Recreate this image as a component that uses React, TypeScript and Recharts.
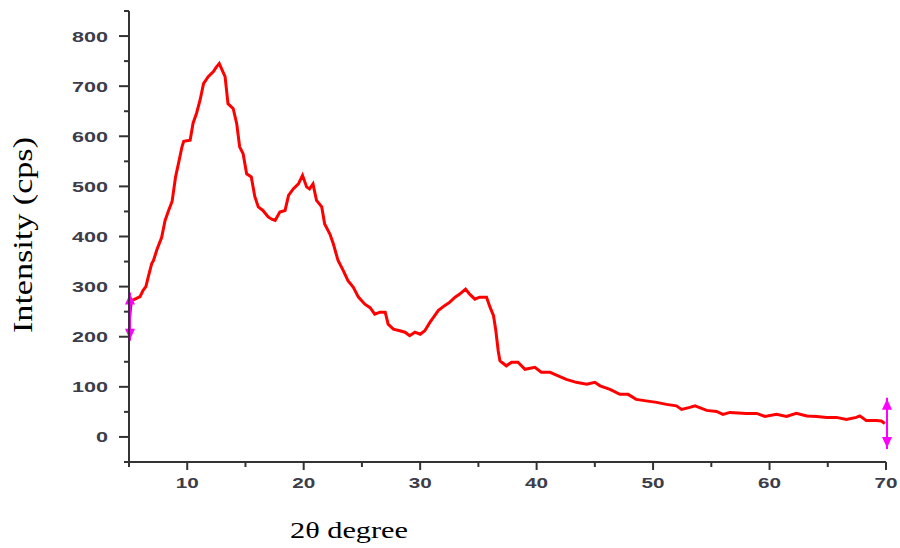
import { LineChart, Line, XAxis, YAxis, ReferenceLine, Label } from "recharts";

// 2θ positions (degrees) and intensities (cps)
const twoTheta = [
  5.05, 5.2, 5.6, 5.95, 6.2, 6.45, 6.65, 6.95, 7.1, 7.4, 7.8, 8.1, 8.4, 8.7, 9.0, 9.25, 9.55, 9.7,
  10.25, 10.5, 10.8, 11.1, 11.4, 11.8, 12.25, 12.5, 12.75, 13.0, 13.25, 13.5, 13.95, 14.25, 14.5,
  14.8, 15.1, 15.5, 15.8, 16.1, 16.5, 16.95, 17.3, 17.55, 17.95, 18.4, 18.7, 19.1, 19.55, 19.9,
  20.25, 20.5, 20.8, 21.1, 21.55, 21.8, 22.25, 22.55, 22.95, 23.4, 23.8, 24.25, 24.7, 25.25, 25.7,
  26.1, 26.55, 27.0, 27.25, 27.7, 28.25, 28.7, 29.1, 29.55, 30.0, 30.4, 30.85, 31.25, 31.55, 32.1,
  32.55, 33.0, 33.4, 33.9, 34.25, 34.7, 35.1, 35.7, 36.0, 36.3, 36.5, 36.7, 36.85, 37.0, 37.4,
  37.85, 38.4, 39.0, 39.85, 40.4, 41.15, 41.85, 42.55, 43.4, 44.3, 45.0, 45.45, 46.3, 47.15, 47.85,
  48.55, 49.4, 50.3, 51.15, 52.0, 52.45, 53.15, 53.6, 54.6, 55.45, 56.0, 56.6, 58.0, 58.9, 59.6,
  60.6, 61.45, 62.3, 63.2, 64.05, 64.9, 65.75, 66.6, 67.45, 67.75, 68.3, 69.15, 69.6, 69.9,
];
const intensity = [
  238, 272, 276, 280, 292, 300, 319, 346, 352, 374, 398, 432, 452, 470, 519, 546, 579, 590,
  592, 626, 646, 672, 705, 719, 729, 738, 745, 732, 719, 665, 655, 625, 579,
  565, 525, 519, 480, 459, 452, 439, 434, 432, 449, 452, 482, 495, 505, 522,
  499, 495, 505, 472, 459, 425, 405, 385, 352, 332, 312, 299, 279, 265, 258,
  245, 249, 249, 225, 215, 212, 209, 202, 209, 205, 212, 229, 242, 252, 262,
  269, 279, 285, 295, 285, 275, 279, 279, 259, 242, 212, 172, 152, 149, 142,
  149, 149, 135, 139, 129, 129, 122, 115, 109, 105, 109, 102, 95, 85, 85,
  75, 72, 69, 65, 62, 55, 59, 62, 53, 51, 45, 49, 47, 47, 41,
  45, 41, 47, 42, 41, 39, 39, 35, 39, 42, 33, 33, 32, 27,
];

const xTicks = [5, 10, 15, 20, 25, 30, 35, 40, 45, 50, 55, 60, 65, 70];
const yTicks = [-50, 0, 50, 100, 150, 200, 250, 300, 350, 400, 450, 500, 550, 600, 650, 700, 750, 800, 850];

// magenta range markers at both ends of the scan
const markers = [
  { x: 5, lo: 192, hi: 288 },
  { x: 70, lo: -24, hi: 78 },
];

const data = twoTheta.map((t, i) => ({ x: t, y: intensity[i] }));

const AXIS = "#333";
const SERIF = "'Liberation Serif', 'Times New Roman', Times, serif";
const tickFont = {
  fontFamily: "'Liberation Sans', Arial, sans-serif",
  fontSize: 15,
  fontWeight: 700,
  fill: "#3d3d4a",
};

const XTick = (props: any) => {
  const { x, y, payload } = props;
  const v = payload.value;
  const major = v % 10 === 0;
  const s = String(v);
  return (
    <g>
      <line x1={x} x2={x} y1={y} y2={y + (major ? 8 : 5)} stroke={AXIS} strokeWidth={2} />
      {major && (
        <text x={x} y={y + 26} textAnchor="middle" textLength={s.length * 11.5} lengthAdjust="spacingAndGlyphs" {...tickFont}>
          {s}
        </text>
      )}
    </g>
  );
};

const YTick = (props: any) => {
  const { x, y, payload } = props;
  const v = payload.value;
  const major = v % 100 === 0 && v >= 0 && v <= 800;
  const s = String(v);
  return (
    <g>
      <line x1={x - (major ? 10 : 5)} x2={x} y1={y} y2={y} stroke={AXIS} strokeWidth={2} />
      {major && (
        <text x={x - 21} y={y + 5.5} textAnchor="end" textLength={s.length * 12} lengthAdjust="spacingAndGlyphs" {...tickFont}>
          {s}
        </text>
      )}
    </g>
  );
};

const RangeMarker = (props: any) => {
  const { x1, y1, x2, y2 } = props;
  const top = Math.min(y1, y2);
  const bot = Math.max(y1, y2);
  const c = "#ff00ff";
  return (
    <g>
      <line x1={x1 + 1} x2={x2 + 1} y1={top} y2={bot} stroke={c} strokeWidth={2} />
      <polygon points={`${x1 + 1},${top + 1} ${x1 - 4},${top + 12} ${x1 + 6},${top + 12}`} fill={c} />
      <polygon points={`${x1 + 1},${bot - 1} ${x1 - 4},${bot - 12} ${x1 + 6},${bot - 12}`} fill={c} />
    </g>
  );
};

export default function App() {
  return (
    <div style={{ position: "absolute", left: 0, top: 0, background: "#fff" }}>
      <LineChart width={900} height={548} data={data} margin={{ top: 11, right: 14, bottom: 56, left: 69 }}>
        <XAxis
          dataKey="x"
          type="number"
          domain={[5, 70]}
          ticks={xTicks}
          interval={0}
          allowDataOverflow
          height={30}
          stroke={AXIS}
          strokeWidth={2}
          tickSize={0}
          tickMargin={0}
          tick={<XTick />}
        >
          <Label
            content={() => (
              <text x={349} y={538} textAnchor="middle" fontFamily={SERIF} fontSize={24} textLength={118} lengthAdjust="spacingAndGlyphs" fill="#000">
                2θ degree
              </text>
            )}
          />
        </XAxis>
        <YAxis
          type="number"
          domain={[-50, 850]}
          ticks={yTicks}
          interval={0}
          allowDataOverflow
          width={60}
          stroke={AXIS}
          strokeWidth={2}
          tickSize={0}
          tickMargin={0}
          tick={<YTick />}
        >
          <Label
            content={() => (
              <text x={32} y={235} transform="rotate(-90 32 235)" textAnchor="middle" fontFamily={SERIF} fontSize={28} textLength={196} lengthAdjust="spacingAndGlyphs" fill="#000">
                Intensity (cps)
              </text>
            )}
          />
        </YAxis>
        <Line type="linear" dataKey="y" stroke="#ff0000" strokeWidth={3} dot={false} isAnimationActive={false} />
        {markers.map((m) => (
          <ReferenceLine
            key={m.x}
            segment={[{ x: m.x, y: m.lo }, { x: m.x, y: m.hi }]}
            shape={<RangeMarker />}
            ifOverflow="visible"
          />
        ))}
      </LineChart>
    </div>
  );
}
